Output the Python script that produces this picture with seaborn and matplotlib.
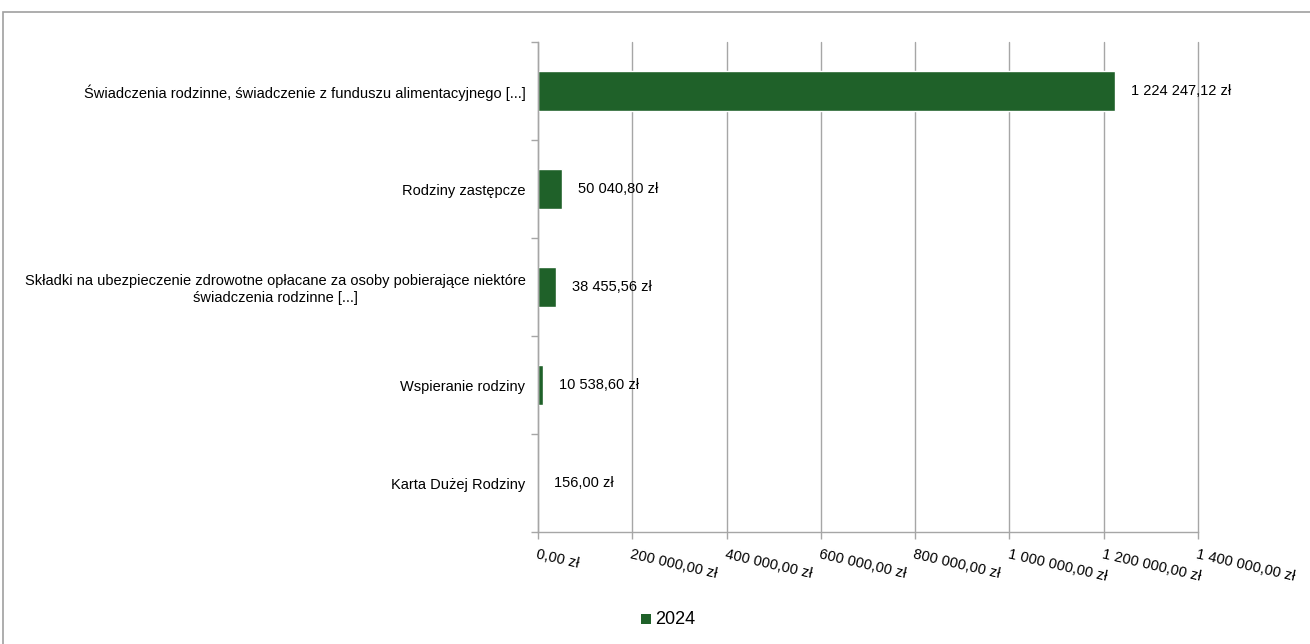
import matplotlib
matplotlib.use("Agg")
import matplotlib.pyplot as plt
import seaborn as sns
import pandas as pd
from matplotlib.patches import Rectangle
from matplotlib.ticker import FixedLocator

categories = [
    "Świadczenia rodzinne, świadczenie z funduszu alimentacyjnego [...]",
    "Rodziny zastępcze",
    "Składki na ubezpieczenie zdrowotne opłacane za osoby pobierające niektóre\nświadczenia rodzinne [...]",
    "Wspieranie rodziny",
    "Karta Dużej Rodziny",
]
values = [1224247.12, 50040.80, 38455.56, 10538.60, 156.00]
value_labels = ["1 224 247,12 zł", "50 040,80 zł", "38 455,56 zł", "10 538,60 zł", "156,00 zł"]
series_name = "2024"
x_ticks = [0, 200000, 400000, 600000, 800000, 1000000, 1200000, 1400000]
x_tick_labels = ["0,00 zł", "200 000,00 zł", "400 000,00 zł", "600 000,00 zł",
                 "800 000,00 zł", "1 000 000,00 zł", "1 200 000,00 zł", "1 400 000,00 zł"]

sns.set_style("white")
plt.rcParams["font.family"] = ["Liberation Sans", "DejaVu Sans"]
plt.rcParams["text.color"] = "black"
plt.rcParams["xtick.labelcolor"] = "black"
plt.rcParams["ytick.labelcolor"] = "black"

GREEN = "#1f6129"
GRID = "#a6a6a6"

fig = plt.figure(figsize=(13.10, 6.44), dpi=100)
ax = fig.add_axes([538/1310, 1-532/644, 660/1310, 490/644])

df = pd.DataFrame({"cat": categories, "val": values, "series": series_name})
sns.barplot(data=df, x="val", y="cat", hue="series", palette=[GREEN],
            width=0.4, orient="h", ax=ax, legend=False, saturation=1)

ax.set_xlim(0, 1400000)
ax.set_ylim(4.5, -0.5)
ax.set_xticks(x_ticks)
ax.set_xticklabels(x_tick_labels, rotation=-13, ha="left", va="top",
                   rotation_mode="anchor", fontsize=10.5)
ax.xaxis.grid(True, color=GRID, linewidth=1)
for gl in ax.get_xgridlines():
    gl.set_clip_on(False)
ax.set_axisbelow(True)
ax.set_xlabel("")
ax.set_ylabel("")

ax.set_yticks(range(len(categories)))
ax.set_yticklabels(categories, fontsize=10.5, multialignment="center")
ax.yaxis.set_minor_locator(FixedLocator([i - 0.5 for i in range(len(categories) + 1)]))
ax.tick_params(axis="y", which="major", length=0, pad=9)
ax.tick_params(axis="y", which="minor", length=5, color=GRID, width=1, left=True)
ax.tick_params(axis="x", which="major", length=5, color=GRID, width=1, bottom=True, pad=6)

for s in ["top", "right"]:
    ax.spines[s].set_visible(False)
for s in ["left", "bottom"]:
    ax.spines[s].set_color(GRID)
    ax.spines[s].set_linewidth(1)

for i, (v, lab) in enumerate(zip(values, value_labels)):
    ax.annotate(lab, xy=(v, i), xytext=(16, 0), textcoords="offset pixels",
                ha="left", va="center", fontsize=10.5, color="black")

# legend
fig.patches.append(Rectangle((641/1310, 1-624/644), 10/1310, 10/644,
                             transform=fig.transFigure, facecolor=GREEN, edgecolor="none"))
fig.text(655/1310, 1-619/644, series_name, ha="left", va="center", fontsize=13, color="black")

# chart border
fig.patches.append(Rectangle((3/1310, -0.02), 1.05, 1-12/644+0.02, transform=fig.transFigure,
                             facecolor="none", edgecolor="#a0a0a0", linewidth=1.2))

fig.savefig("out.png", dpi=100)
